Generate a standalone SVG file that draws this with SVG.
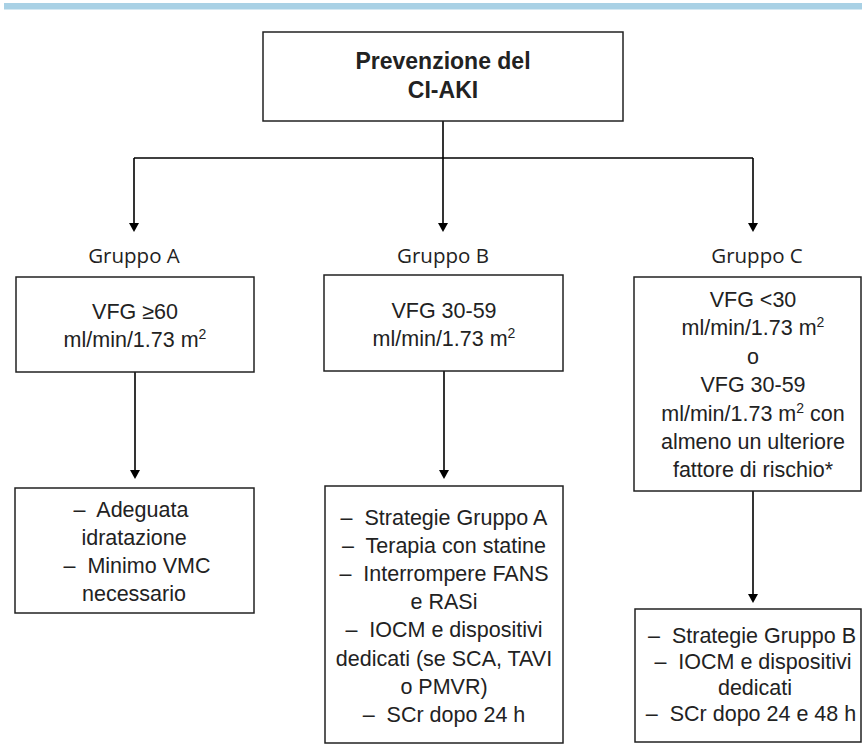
<svg xmlns="http://www.w3.org/2000/svg" width="862" height="748" viewBox="0 0 862 748">
<defs>
<marker id="arr" markerUnits="userSpaceOnUse" markerWidth="10" markerHeight="10" refX="0" refY="5" orient="auto">
<path d="M0,0 L9,5 L0,10 z" fill="#000"/>
</marker>
<style>
.box{fill:#fff;stroke:#222;stroke-width:1.5}
.t{font-family:"Liberation Sans",Arial,sans-serif;font-size:21.5px;fill:#222;text-anchor:middle;white-space:pre}
.title{font-family:"Liberation Sans",Arial,sans-serif;font-size:23px;font-weight:bold;fill:#222;text-anchor:middle}
.g{font-family:"Open Sans","Noto Sans",sans-serif;font-size:20.5px;fill:#222;text-anchor:middle}
.c{fill:none;stroke:#000;stroke-width:1.6}
.sup{font-size:14px}
</style>
</defs>
<rect x="4" y="3" width="858" height="6.5" fill="#a9d1e5"/>

<g id="connectors">
<path class="c" d="M443,121 V158"/>
<path class="c" d="M134,158 H753"/>
<path class="c" d="M134,158 V223" marker-end="url(#arr)"/>
<path class="c" d="M443,158 V223" marker-end="url(#arr)"/>
<path class="c" d="M753,158 V223" marker-end="url(#arr)"/>
<path class="c" d="M135,372 V470" marker-end="url(#arr)"/>
<path class="c" d="M444,371 V470" marker-end="url(#arr)"/>
<path class="c" d="M753,491 V594" marker-end="url(#arr)"/>
</g>

<g id="title">
<rect class="box" x="263" y="32" width="360" height="89"/>
<text class="title" x="443" y="69">Prevenzione del</text>
<text class="title" x="443" y="98">CI-AKI</text>
</g>

<g id="label-a"><text class="g" x="134" y="263">Gruppo A</text></g>
<g id="label-b"><text class="g" x="443" y="263">Gruppo B</text></g>
<g id="label-c"><text class="g" x="757" y="263">Gruppo C</text></g>

<g id="box-a">
<rect class="box" x="16" y="277" width="238" height="95"/>
<text class="t" x="135" y="319">VFG ≥60</text>
<text class="t" x="135" y="347">ml/min/1.73 m<tspan class="sup" dy="-8">2</tspan></text>
</g>

<g id="box-b">
<rect class="box" x="324" y="275" width="239" height="96"/>
<text class="t" x="444" y="318">VFG 30-59</text>
<text class="t" x="444" y="346">ml/min/1.73 m<tspan class="sup" dy="-8">2</tspan></text>
</g>

<g id="box-c">
<rect class="box" x="634" y="277" width="227" height="214"/>
<text class="t" x="753" y="307">VFG &lt;30</text>
<text class="t" x="753" y="335">ml/min/1.73 m<tspan class="sup" dy="-8">2</tspan></text>
<text class="t" x="753" y="364">o</text>
<text class="t" x="753" y="392">VFG 30-59</text>
<text class="t" x="753" y="421">ml/min/1.73 m<tspan class="sup" dy="-8">2</tspan><tspan dy="8"> con</tspan></text>
<text class="t" x="753" y="449">almeno un ulteriore</text>
<text class="t" x="753" y="477">fattore di rischio*</text>
</g>

<g id="box-a2">
<rect class="box" x="15" y="488" width="239" height="125"/>
<text class="t" x="131" y="517" xml:space="preserve">–  Adeguata</text>
<text class="t" x="134" y="545">idratazione</text>
<text class="t" x="137" y="573" xml:space="preserve">–  Minimo VMC</text>
<text class="t" x="134" y="601">necessario</text>
</g>

<g id="box-b2">
<rect class="box" x="325" y="486" width="238" height="257"/>
<text class="t" x="444" y="525" xml:space="preserve">–  Strategie Gruppo A</text>
<text class="t" x="444" y="553" xml:space="preserve">–  Terapia con statine</text>
<text class="t" x="444" y="581" xml:space="preserve">–  Interrompere FANS</text>
<text class="t" x="444" y="609">e RASi</text>
<text class="t" x="444" y="637" xml:space="preserve">–  IOCM e dispositivi</text>
<text class="t" x="444" y="666">dedicati (se SCA, TAVI</text>
<text class="t" x="444" y="694">o PMVR)</text>
<text class="t" x="444" y="722" xml:space="preserve">–  SCr dopo 24 h</text>
</g>

<g id="box-c2">
<rect class="box" x="635" y="609" width="226" height="133"/>
<text class="t" x="752" y="643" xml:space="preserve">–  Strategie Gruppo B</text>
<text class="t" x="753" y="669" xml:space="preserve">–  IOCM e dispositivi</text>
<text class="t" x="755" y="695">dedicati</text>
<text class="t" x="751" y="721" xml:space="preserve">–  SCr dopo 24 e 48 h</text>
</g>
</svg>
